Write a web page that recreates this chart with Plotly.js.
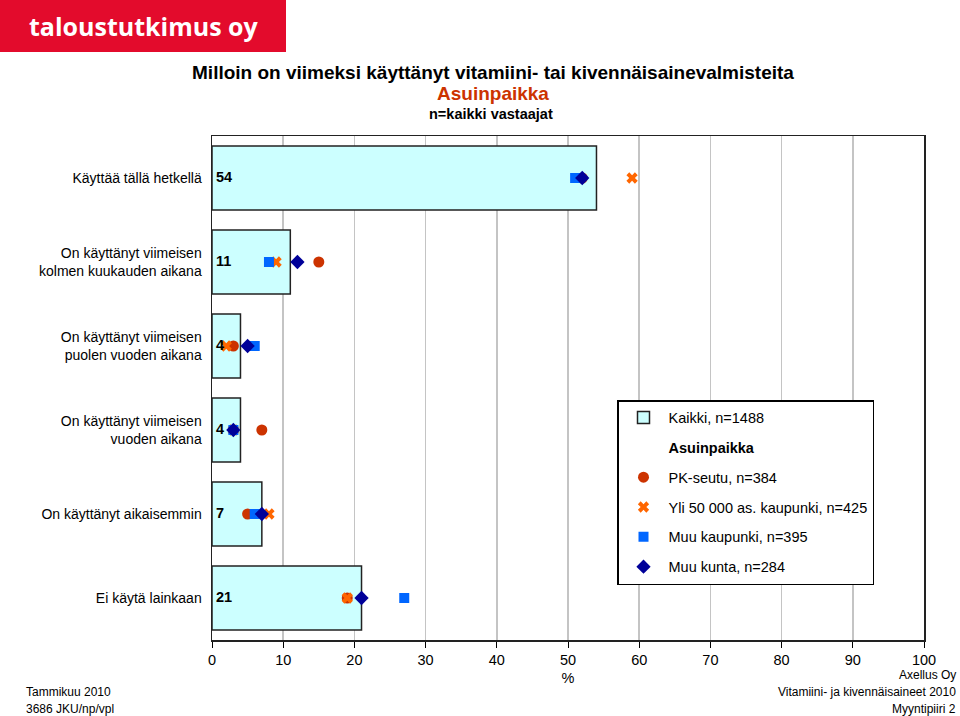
<!DOCTYPE html>
<html>
<head>
<meta charset="utf-8">
<script src="https://cdn.plot.ly/plotly-3.0.1.min.js"></script>
<style>
  html, body { margin: 0; padding: 0; background: #fff; }
  #chart { width: 960px; height: 716px; }
</style>
</head>
<body>
<div id="chart"></div>
<script>
// data (%)
const categories = [
  "Käyttää tällä hetkellä",
  "On käyttänyt viimeisen<br>kolmen kuukauden aikana",
  "On käyttänyt viimeisen<br>puolen vuoden aikana",
  "On käyttänyt viimeisen<br>vuoden aikana",
  "On käyttänyt aikaisemmin",
  "Ei käytä lainkaan"
];
const kaikki = [54, 11, 4, 4, 7, 21];
const pkSeutu = [52, 15, 3, 7, 5, 19];
const yli50000 = [59, 9, 2, 3, 8, 19];
const muuKaupunki = [51, 8, 6, 3, 6, 27];
const muuKunta = [52, 12, 5, 3, 7, 21];

const seriesNames = [
  "Kaikki, n=1488",
  "PK-seutu, n=384",
  "Yli 50 000 as. kaupunki, n=425",
  "Muu kaupunki, n=395",
  "Muu kunta, n=284"
];
const xTicks = [0, 10, 20, 30, 40, 50, 60, 70, 80, 90, 100];

// plot area in pixels
const W = 960, H = 716;
const M = { l: 212, r: 36, t: 136, b: 76 };
const pw = W - M.l - M.r, ph = H - M.t - M.b;
const px = (x) => (x - M.l) / pw;
const py = (y) => (H - M.b - y) / ph;

const font = "Liberation Sans, Arial, sans-serif";

function markerTrace(name, values, symbol, color, size) {
  return {
    type: "scatter",
    mode: "markers",
    name: name,
    x: values,
    y: categories,
    legendgroup: name,
    marker: { symbol: symbol, color: color, size: size, line: { width: 0 } },
    hoverinfo: "x+name"
  };
}

const traces = [
  {
    type: "bar",
    orientation: "h",
    name: seriesNames[0],
    x: kaikki,
    y: categories,
    legendgroup: "kaikki",
    marker: { color: "#ccffff", line: { color: "#222", width: 1.5 } },
    hoverinfo: "x"
  },
  // legend header only
  {
    type: "scatter",
    mode: "markers",
    name: "<b>Asuinpaikka</b>",
    x: [null],
    y: [null],
    legendgroup: "header",
    marker: { color: "rgba(0,0,0,0)", size: 0 },
    hoverinfo: "skip"
  },
  markerTrace(seriesNames[1], pkSeutu, "circle", "#cc3300", 11),
  markerTrace(seriesNames[2], yli50000, "x", "#ff6600", 10),
  markerTrace(seriesNames[3], muuKaupunki, "square", "#0066ff", 10),
  markerTrace(seriesNames[4], muuKunta, "diamond", "#000099", 11),
  // value labels at the start of each bar
  {
    type: "scatter",
    mode: "text",
    x: kaikki.map(() => 0),
    y: categories,
    text: kaikki.map((v) => "&nbsp;<b>" + v + "</b>"),
    textposition: "middle right",
    textfont: { family: font, size: 14.5, color: "#000" },
    showlegend: false,
    hoverinfo: "skip"
  }
];

const layout = {
  width: W,
  height: H,
  margin: M,
  paper_bgcolor: "#fff",
  plot_bgcolor: "#fff",
  font: { family: font, size: 14, color: "#000" },
  showlegend: true,
  bargap: 0.24,
  title: {
    text: "<b>Milloin on viimeksi käyttänyt vitamiini- tai kivennäisainevalmisteita</b>",
    font: { family: font, size: 19, color: "#000" },
    x: 493 / W,
    xanchor: "center",
    y: 1 - 72 / H,
    yanchor: "middle"
  },
  xaxis: {
    range: [0, 100],
    tickvals: xTicks,
    ticks: "outside",
    ticklen: 6,
    tickcolor: "#000",
    tickfont: { size: 14.5 },
    showgrid: true,
    gridcolor: "#c4c4c4",
    gridwidth: 1.5,
    zeroline: false,
    showline: true,
    linecolor: "#222",
    linewidth: 1.5,
    mirror: true,
    title: { text: "%", font: { size: 14.5 }, standoff: 6 },
    fixedrange: true
  },
  yaxis: {
    type: "category",
    autorange: "reversed",
    ticks: "",
    ticklabelstandoff: 6,
    tickfont: { size: 14 },
    showgrid: false,
    zeroline: false,
    showline: true,
    linecolor: "#222",
    linewidth: 1.5,
    mirror: true,
    fixedrange: true
  },
  legend: {
    x: px(617),
    y: py(400),
    xanchor: "left",
    yanchor: "top",
    bgcolor: "#fff",
    bordercolor: "#000",
    borderwidth: 1.5,
    font: { family: font, size: 14.5, color: "#000" },
    traceorder: "grouped",
    tracegroupgap: 8,
    itemwidth: 40
  },
  shapes: [
    // logo block
    {
      type: "rect",
      xref: "paper", yref: "paper",
      x0: px(0), x1: px(286), y0: py(52), y1: py(0),
      fillcolor: "#e30b2c",
      line: { width: 0 },
      layer: "above"
    }
  ],
  annotations: [
    {
      text: "<b>taloustutkimus oy</b>",
      xref: "paper", yref: "paper",
      x: px(144), y: py(26), xanchor: "center", yanchor: "middle",
      showarrow: false,
      font: { family: "Open Sans, sans-serif", size: 25, color: "#fff" }
    },
    {
      text: "<b>Asuinpaikka</b>",
      xref: "paper", yref: "paper",
      x: px(493), y: py(93), xanchor: "center", yanchor: "middle",
      showarrow: false,
      font: { size: 19, color: "#cc3300" }
    },
    {
      text: "<b>n=kaikki vastaajat</b>",
      xref: "paper", yref: "paper",
      x: px(491), y: py(114), xanchor: "center", yanchor: "middle",
      showarrow: false,
      font: { size: 14.5 }
    },
    {
      text: "Tammikuu 2010",
      xref: "paper", yref: "paper",
      x: px(24), y: py(692), xanchor: "left", yanchor: "middle",
      showarrow: false, font: { size: 12 }
    },
    {
      text: "3686 JKU/np/vpl",
      xref: "paper", yref: "paper",
      x: px(24), y: py(709), xanchor: "left", yanchor: "middle",
      showarrow: false, font: { size: 12 }
    },
    {
      text: "Axellus Oy",
      xref: "paper", yref: "paper",
      x: px(958), y: py(675), xanchor: "right", yanchor: "middle",
      showarrow: false, font: { size: 12 }
    },
    {
      text: "Vitamiini- ja kivennäisaineet 2010",
      xref: "paper", yref: "paper",
      x: px(958), y: py(692), xanchor: "right", yanchor: "middle",
      showarrow: false, font: { size: 12 }
    },
    {
      text: "Myyntipiiri 2",
      xref: "paper", yref: "paper",
      x: px(958), y: py(709), xanchor: "right", yanchor: "middle",
      showarrow: false, font: { size: 12 }
    }
  ]
};

Plotly.newPlot("chart", traces, layout, { displayModeBar: false, staticPlot: true });
</script>
</body>
</html>
